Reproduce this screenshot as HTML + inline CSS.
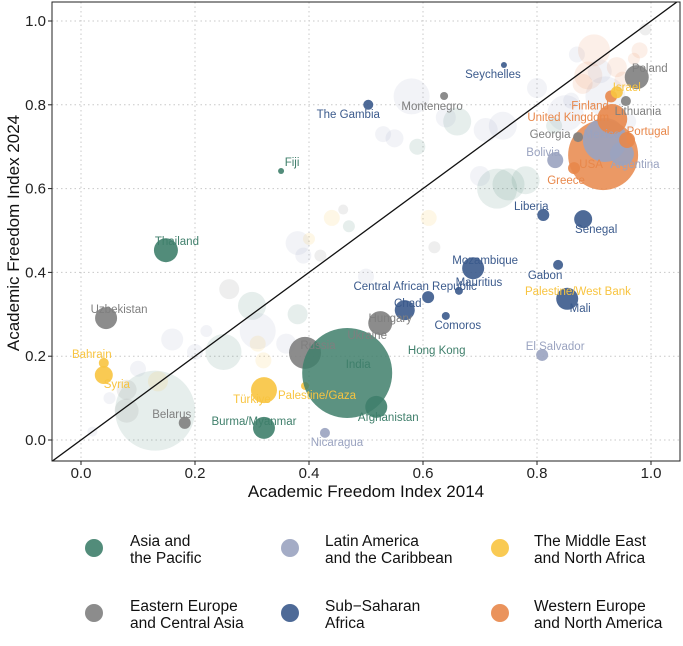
<!DOCTYPE html>
<html><head><meta charset="utf-8"><style>
body{margin:0;background:#fff;width:683px;height:641px;overflow:hidden;font-family:"Liberation Sans",sans-serif}
svg text{font-family:"Liberation Sans",sans-serif}
</style></head><body>
<svg id="chart" width="683" height="641" xmlns="http://www.w3.org/2000/svg"></svg>
<script>
const regions=["asia","latam","mena","eeca","ssa","wena"];
const regionColors={asia:"#3f7f6b",latam:"#9aa3c0",mena:"#f8c440",eeca:"#7f7f7f",ssa:"#3b5a8c",wena:"#e8874a"};
const labCountries=["Fiji","Thailand","The Gambia","Seychelles","Montenegro","Uzbekistan","Bahrain","Syria","Belarus","Burma/Myanmar","Türkiye","Palestine/Gaza","Russia","India","Afghanistan","Nicaragua","Hungary","Chad","Central African Republic","Comoros","Mauritius","Mozambique","Gabon","Mali","El Salvador","Liberia","Senegal","Greece","USA","Argentina","Bolivia","Georgia","Mexico","Portugal","United Kingdom","Lithuania","Finland","Israel","Poland","Ukraine","Hong Kong","Palestine/West Bank"];
const labRegion=["asia","asia","ssa","ssa","eeca","eeca","mena","mena","eeca","asia","mena","mena","eeca","asia","asia","latam","eeca","ssa","ssa","ssa","ssa","ssa","ssa","ssa","latam","ssa","ssa","wena","wena","latam","latam","eeca","latam","wena","wena","eeca","wena","mena","eeca","eeca","asia","mena"];
const labX=[.351,.149,.504,.742,.637,.044,.040,.040,.182,.321,.321,.393,.393,.467,.518,.428,.525,.568,.609,.640,.663,.688,.837,.853,.809,.811,.881,.865,.916,.949,.832,.872,.919,.958,.932,.956,.93,.94,.975,.481,.603,.849];
const labY=[.642,.453,.80,.895,.821,.291,.184,.155,.041,.029,.119,.129,.208,.160,.079,.017,.279,.31,.341,.296,.356,.41,.418,.337,.203,.537,.527,.649,.68,.683,.668,.723,.716,.716,.766,.809,.82,.83,.866,.232,.236,.377];
const labSize=[3,12,5,3,4,11,5,9,6,11,13,4,16,45,11,5,12,10,6,4,4,11,5,11,6,6,9,6,35,12,8,5,22,8,15,5,6,6,12,0,0,0];
const labDX=[11,11,-20,-11,-12,13,-12,13,-13,-10,-12,12,13,11,12,12,10,3,-13,12,20,12,-13,13,13,-12,13,-8,-12,13,-12,-28,-3,21,-44,12,-21,10,13,12,12,13];
const labDY=[-9,-9,9,9,10,-9,-9,9,-9,-7,9,9,-8,-9,10,9,-5,-7,-11,9,-9,-8,10,9,-9,-9,10,12,9,10,-8,-3,-6,-9,-2,10,9,-5,-9,-8,9,9];
const bgX=[.13,.02,.05,.08,.10,.135,.16,.20,.25,.26,.30,.31,.32,.36,.38,.39,.38,.40,.44,.46,.47,.50,.55,.58,.61,.62,.66,.70,.73,.75,.78,.80,.85,.87,.89,.92,.95,.97,.99,.74,.64,.59,.53,.42,.31,.22,.08,.71,.90,.96,.88,.91,.86,.94,.83,.98];
const bgY=[.07,.02,.10,.07,.17,.14,.24,.21,.21,.36,.32,.26,.19,.23,.47,.44,.30,.48,.53,.55,.51,.39,.72,.82,.53,.46,.76,.63,.60,.61,.62,.84,.78,.92,.87,.82,.86,.91,.98,.75,.77,.70,.73,.44,.23,.26,.12,.74,.93,.76,.85,.88,.81,.89,.75,.93];
const bgSize=[40,5,6,12,8,10,11,8,18,10,14,18,8,10,12,8,10,6,8,5,6,8,9,18,8,6,14,10,20,16,14,10,18,8,14,20,8,6,6,14,10,8,8,6,8,6,10,12,16,8,10,12,8,10,8,8];
const bgRegion=["asia","latam","latam","eeca","latam","mena","latam","latam","asia","eeca","asia","latam","mena","latam","latam","latam","asia","mena","mena","eeca","asia","latam","latam","latam","mena","eeca","asia","latam","asia","asia","asia","latam","latam","latam","wena","latam","wena","wena","eeca","latam","latam","asia","latam","eeca","mena","latam","eeca","latam","wena","latam","wena","latam","latam","wena","asia","wena"];
const xTicks=[0,0.2,0.4,0.6,0.8,1.0];const xTickLabels=["0.0","0.2","0.4","0.6","0.8","1.0"];
const yTicks=[0,0.2,0.4,0.6,0.8,1.0];const yTickLabels=["0.0","0.2","0.4","0.6","0.8","1.0"];
const legendNames=[["Asia and","the Pacific"],["Latin America","and the Caribbean"],["The Middle East","and North Africa"],["Eastern Europe","and Central Asia"],["Sub\u2212Saharan","Africa"],["Western Europe","and North America"]];
const legendRegion=["asia","latam","mena","eeca","ssa","wena"];

const NS="http://www.w3.org/2000/svg";const svg=document.getElementById('chart');
const L=52,R=680,T=2,B=461;
function sx(v){return 81+v*570;}function sy(v){return 440-v*419;}
function mk(tag,attrs,parent){const e=document.createElementNS(NS,tag);for(const k in attrs)e.setAttribute(k,attrs[k]);(parent||svg).appendChild(e);return e;}
const defs=mk('defs',{});const cp=mk('clipPath',{id:'clip'},defs);mk('rect',{x:L,y:T,width:R-L,height:B-T},cp);
const grid=mk('g',{});
xTicks.forEach(t=>{mk('line',{x1:sx(t),x2:sx(t),y1:T,y2:B,stroke:'#c8c8c8','stroke-dasharray':'1.5,3'},grid);});
yTicks.forEach(t=>{mk('line',{x1:L,x2:R,y1:sy(t),y2:sy(t),stroke:'#c8c8c8','stroke-dasharray':'1.5,3'},grid);});
const plot=mk('g',{'clip-path':'url(#clip)'});
bgX.forEach((x,i)=>{const c=mk('circle',{cx:sx(x),cy:sy(bgY[i]),r:bgSize[i],fill:regionColors[bgRegion[i]],'fill-opacity':0.13},plot);

});
const diag=mk('line',{x1:sx(-0.06),y1:sy(-0.06),x2:sx(1.1),y2:sy(1.1),stroke:'#111','stroke-width':1.3},plot);


labX.forEach((x,i)=>{if(labSize[i]<=0)return;const c=mk('circle',{cx:sx(x),cy:sy(labY[i]),r:labSize[i],fill:regionColors[labRegion[i]],'fill-opacity':labSize[i]>30?0.85:0.9},plot);

});
labX.forEach((x,i)=>{const t=mk('text',{x:sx(x)+labDX[i],y:sy(labY[i])+labDY[i]+4,'font-size':11.5,'text-anchor':'middle',fill:regionColors[labRegion[i]]},plot);t.textContent=labCountries[i];

});
const frame=mk('rect',{x:L,y:T,width:R-L,height:B-T,fill:'none',stroke:'#222','stroke-width':1});

xTicks.forEach((t,i)=>{mk('line',{x1:sx(t),x2:sx(t),y1:B,y2:B+4,stroke:'#222'});const e=mk('text',{x:sx(t),y:B+17,'font-size':15,'text-anchor':'middle',fill:'#222'});e.textContent=xTickLabels[i];
});
yTicks.forEach((t,i)=>{mk('line',{x1:L-4,x2:L,y1:sy(t),y2:sy(t),stroke:'#222'});const e=mk('text',{x:L-6,y:sy(t)+5,'font-size':15,'text-anchor':'end',fill:'#222'});e.textContent=yTickLabels[i];
});
const xt=mk('text',{x:366,y:497,'font-size':17,'text-anchor':'middle',fill:'#111'});xt.textContent='Academic Freedom Index 2014';

const yt=mk('text',{x:0,y:0,'font-size':17,'text-anchor':'middle',fill:'#111',transform:'translate(19,233) rotate(-90)'});yt.textContent='Academic Freedom Index 2024';

const lx=[94,290,500],ly=[548,613],tx=[130,325,534];
legendNames.forEach((n,i)=>{const g=mk('g',{});


const col=i%3,row=Math.floor(i/3);
mk('circle',{cx:lx[col],cy:ly[row],r:9,fill:regionColors[legendRegion[i]],'fill-opacity':0.9},g);
n.forEach((s,j)=>{const e=mk('text',{x:tx[col],y:ly[row]-2+j*17,'font-size':15.5,fill:'#111'},g);e.textContent=s;});});
</script>
</body></html>
